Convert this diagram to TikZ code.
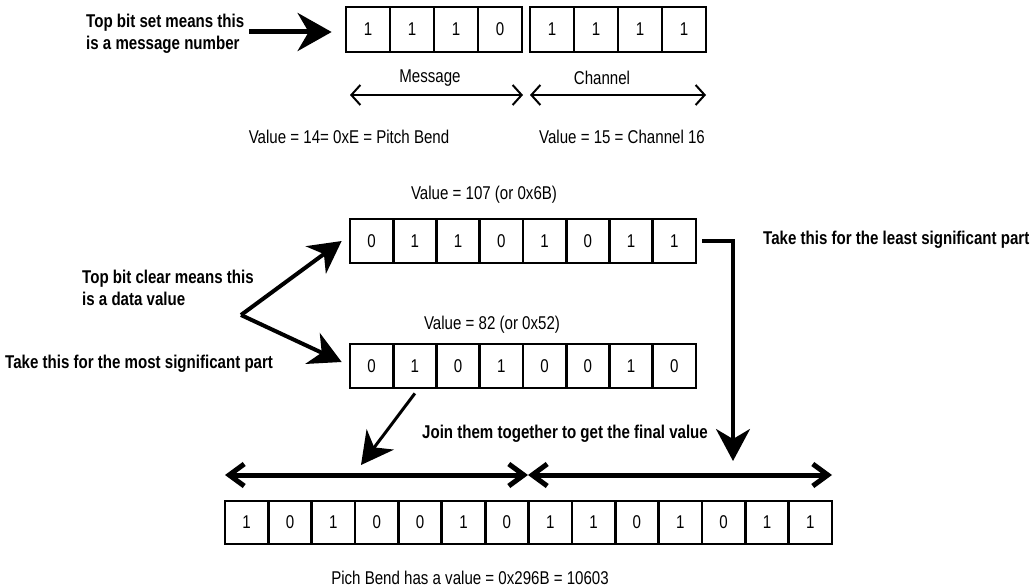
\documentclass[tikz,border=0pt]{standalone}
\usepackage{fontspec}
\setmainfont[FakeStretch=0.815]{Liberation Sans}
\usetikzlibrary{arrows.meta}
\begin{document}
\begin{tikzpicture}[x=1pt,y=-1pt,
 txt/.style={font=\fontsize{18.5}{21.5}\selectfont, inner sep=0pt},
 btxt/.style={font=\fontsize{18.5}{21.5}\selectfont\bfseries, inner sep=0pt, align=left},
 cell/.style={draw, line width=2.7pt, inner sep=0pt, minimum width=44pt, minimum height=45pt, font=\fontsize{18.5}{20}\selectfont},
 mcell/.style={cell, minimum width=43.25pt, minimum height=44pt},
 bcell/.style={cell, minimum width=43.36pt, minimum height=43pt},
 bigarrow/.style={line width=4pt, -{Stealth[length=32pt,width=34pt,inset=10pt]}},
 toparrow/.style={line width=5pt, -{Stealth[length=34pt,width=38pt,inset=11pt]}},
 thinarrow/.style={line width=2pt, {Straight Barb[length=9pt,width=20pt]}-{Straight Barb[length=9pt,width=20pt]}},
 joinarrow/.style={line width=5pt, {Straight Barb[length=15pt,width=22pt]}-{Straight Barb[length=15pt,width=22pt]}}
]
\useasboundingbox (0,0) rectangle (1032,588);
% top byte
\foreach \b [count=\i] in {1,1,1,0}
  \node[cell] (t\i) at ({346+44*(\i-0.5)},29.5) {\b};
\foreach \b [count=\i from 5] in {1,1,1,1}
  \node[cell] (t\i) at ({530+44*(\i-4.5)},29.5) {\b};
\node[btxt, anchor=west] (tbs) at (86,34) {Top bit set means this\\is a message number};
\draw[toparrow] ([xshift=5pt,yshift=2pt]tbs.east) -- ([xshift=-13pt,yshift=-2.5pt]t1.west);
\coordinate (m1) at (350,95);
\coordinate (m2) at (523,95);
\coordinate (c1) at (530,95);
\coordinate (c2) at (706,95);
\draw[thinarrow] (m1) -- (m2);
\draw[thinarrow] (c1) -- (c2);
\node[txt] (msg) at (430,78) {Message};
\node[txt] (chn) at (602,78) {Channel};
\node[txt] (v14) at (349,137) {Value = 14= 0xE = Pitch Bend};
\node[txt] (v15) at (622,137) {Value = 15 = Channel 16};
% middle bytes
\node[txt] (v107) at (484,195) {Value = 107 (or 0x6B)};
\foreach \b [count=\i] in {0,1,1,0,1,0,1,1}
  \node[mcell] (u\i) at ({350+43.25*(\i-0.5)},241) {\b};
\node[txt] (v82) at (492,325) {Value = 82 (or 0x52)};
\foreach \b [count=\i] in {0,1,0,1,0,0,1,0}
  \node[mcell] (l\i) at ({350+43.25*(\i-0.5)},366) {\b};
\node[btxt, anchor=west] (lsp) at (763,240) {Take this for the least significant part};
\node[btxt, anchor=west] (tbc) at (82,288) {Top bit clear means this\\is a data value};
\node[btxt, anchor=west] (msp) at (5,364) {Take this for the most significant part};
\coordinate (br) at (241,315);
\draw[bigarrow] (br) -- ([xshift=-7pt]u1.west);
\draw[bigarrow] (br) -- ([xshift=-7pt,yshift=4pt]l1.west);
\coordinate (dtip) at (733,461);
\draw[bigarrow, line width=3.5pt, shorten <=5pt] (u8.east) -| (dtip);
\coordinate (dtip2) at (361,465);
\draw[bigarrow, line width=3pt] ([yshift=-4pt]l2.south) -- (dtip2);
\node[btxt] (join) at (565,434) {Join them together to get the final value};
% bottom
\coordinate (j1) at (225,475);
\coordinate (j2) at (528,475);
\coordinate (j3) at (832,475);
\draw[joinarrow] (j1) -- (j2);
\draw[joinarrow] (j2) -- (j3);
\foreach \b [count=\i] in {1,0,1,0,0,1,0,1,1,0,1,0,1,1}
  \node[bcell] (b\i) at ({225+43.36*(\i-0.5)},522.5) {\b};
\node[txt] (pich) at (470,578) {Pich Bend has a value = 0x296B = 10603};
\end{tikzpicture}
\end{document}
